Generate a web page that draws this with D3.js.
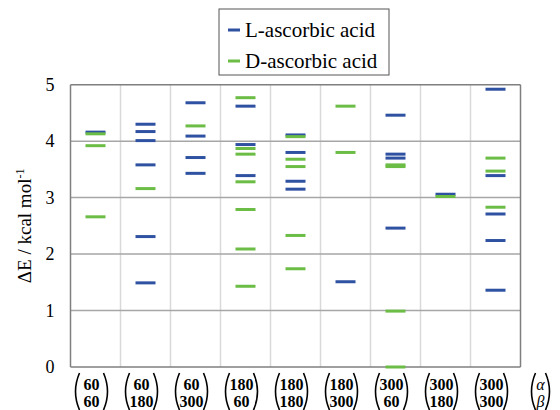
<!DOCTYPE html>
<html>
<head>
<meta charset="utf-8">
<script src="https://cdn.jsdelivr.net/npm/d3@7"></script>
<style>
  body { margin: 0; background: #fff; }
</style>
</head>
<body>
<div id="chart"></div>
<script>
// conformers (alpha, beta)
const alphaLabels = ["60", "60", "60", "180", "180", "180", "300", "300", "300"];
const betaLabels  = ["60", "180", "300", "60", "180", "300", "60", "180", "300"];

// relative energies, kcal/mol, one array per conformer
const lAscorbic = [
    [4.16],
    [4.30, 4.17, 4.01, 3.58, 2.31, 1.49],
    [4.68, 4.09, 3.71, 3.43],
    [4.62, 3.94, 3.39],
    [4.11, 3.80, 3.29, 3.15],
    [1.51],
    [4.46, 3.77, 3.70, 2.46],
    [3.06],
    [4.92, 3.39, 2.71, 2.24, 1.36]
];
const dAscorbic = [
    [4.13, 3.92, 2.66],
    [3.16],
    [4.27],
    [4.77, 3.87, 3.77, 3.28, 2.79, 2.09, 1.43],
    [4.08, 3.68, 3.55, 2.33, 1.74],
    [4.62, 3.80],
    [3.58, 3.55, 0.99, 0.0],
    [3.02],
    [3.70, 3.47, 2.83]
];
const yTicks = [0, 1, 2, 3, 4, 5];
const seriesNames = ["L-ascorbic acid", "D-ascorbic acid"];
const seriesColors = ["#2f51a1", "#6cbd45"];

const W = 560, H = 410;
const margin = {top: 84.7, right: 39.5, bottom: 43, left: 70.5};
const plotW = W - margin.left - margin.right;
const plotH = H - margin.top - margin.bottom;
const serif = "'Liberation Serif', 'Times New Roman', Tinos, 'DejaVu Serif', serif";

const svg = d3.select("#chart").append("svg")
    .attr("width", W).attr("height", H)
    .style("font-family", serif);

const g = svg.append("g")
    .attr("transform", `translate(${margin.left},${margin.top})`);

const cats = alphaLabels.map((a, i) => i);
const x = d3.scaleBand().domain(cats).range([0, plotW]);
const y = d3.scaleLinear().domain([0, 5]).range([plotH, 0]);

// vertical separators
g.append("g").selectAll("line")
    .data(cats.slice(1))
    .join("line")
    .attr("x1", d => x(d)).attr("x2", d => x(d))
    .attr("y1", 0).attr("y2", plotH)
    .attr("stroke", "#d9d9d9").attr("stroke-width", 1.5);

// horizontal gridlines
g.append("g").selectAll("line")
    .data(yTicks)
    .join("line")
    .attr("x1", 0).attr("x2", plotW)
    .attr("y1", d => y(d)).attr("y2", d => y(d))
    .attr("stroke", d => (d === 0 || d === 5) ? "#7f7f7f" : "#a6a6a6")
    .attr("stroke-width", 1.5);

// left / right frame
g.append("line").attr("x1", 0).attr("x2", 0).attr("y1", 0).attr("y2", plotH)
    .attr("stroke", "#7f7f7f").attr("stroke-width", 1.5);
g.append("line").attr("x1", plotW).attr("x2", plotW).attr("y1", 0).attr("y2", plotH)
    .attr("stroke", "#7f7f7f").attr("stroke-width", 1.5);

// energy levels
const dashW = 20;
[lAscorbic, dAscorbic].forEach((series, s) => {
    const flat = [];
    series.forEach((vals, i) => vals.forEach(v => flat.push({cat: i, value: v})));
    g.append("g").selectAll("line")
        .data(flat)
        .join("line")
        .attr("x1", d => x(d.cat) + x.bandwidth() / 2 - dashW / 2)
        .attr("x2", d => x(d.cat) + x.bandwidth() / 2 + dashW / 2)
        .attr("y1", d => y(d.value)).attr("y2", d => y(d.value))
        .attr("stroke", seriesColors[s])
        .attr("stroke-width", 3);
});

// y tick labels
g.append("g").selectAll("text")
    .data(yTicks)
    .join("text")
    .attr("x", -16).attr("y", d => y(d))
    .attr("dy", "0.35em")
    .attr("text-anchor", "end")
    .style("font-size", "18px")
    .text(d => d);

// y axis title
const yTitle = svg.append("text")
    .attr("transform", `translate(31,${margin.top + plotH / 2}) rotate(-90)`)
    .attr("text-anchor", "middle")
    .style("font-size", "19px");
yTitle.append("tspan").text("ΔE / kcal mol");
yTitle.append("tspan").attr("dy", "-0.55em").style("font-size", "12px").text("-1");

// x labels as column vectors in parentheses
const xLabels = alphaLabels.map((a, i) => ({a, b: betaLabels[i], cx: margin.left + x(i) + x.bandwidth() / 2, half: 17, bold: true}));
xLabels.push({a: "α", b: "β", cx: margin.left + plotW + x.bandwidth() / 2 - 1, half: 10, bold: false});

function paren(xEdge, dir) {
    const top = 373, bot = 410, bulge = 5 * dir;
    return `M${xEdge + bulge},${top} Q${xEdge - bulge * 0.6},${(top + bot) / 2} ${xEdge + bulge},${bot}`;
}

const xl = svg.append("g");
xLabels.forEach(l => {
    const tc = l.cx - 4;
    const grp = xl.append("g");
    [l.a, l.b].forEach((t, r) => {
        grp.append("text").attr("x", tc).attr("y", 390 + r * 17)
            .attr("text-anchor", "middle")
            .style("font-size", "16px")
            .style("font-weight", l.bold ? "bold" : "normal")
            .style("font-style", l.bold ? "normal" : "italic")
            .text(t);
    });
    grp.append("path").attr("d", paren(tc - l.half, 1))
        .attr("fill", "none").attr("stroke", "#000").attr("stroke-width", 1.6);
    grp.append("path").attr("d", paren(tc + l.half, -1))
        .attr("fill", "none").attr("stroke", "#000").attr("stroke-width", 1.6);
});

// legend
const legend = svg.append("g").attr("transform", "translate(219,9)");
legend.append("rect")
    .attr("x", 0).attr("y", 0).attr("width", 170).attr("height", 66)
    .attr("fill", "#fff").attr("stroke", "#555").attr("stroke-width", 1);
seriesNames.forEach((name, i) => {
    const row = legend.append("g").attr("transform", `translate(0,${21 + i * 31})`);
    row.append("line")
        .attr("x1", 9).attr("x2", 21).attr("y1", 0).attr("y2", 0)
        .attr("stroke", seriesColors[i]).attr("stroke-width", 3);
    row.append("text")
        .attr("x", 26).attr("y", 0).attr("dy", "0.35em")
        .style("font-size", "21px")
        .text(name);
});
</script>
</body>
</html>
